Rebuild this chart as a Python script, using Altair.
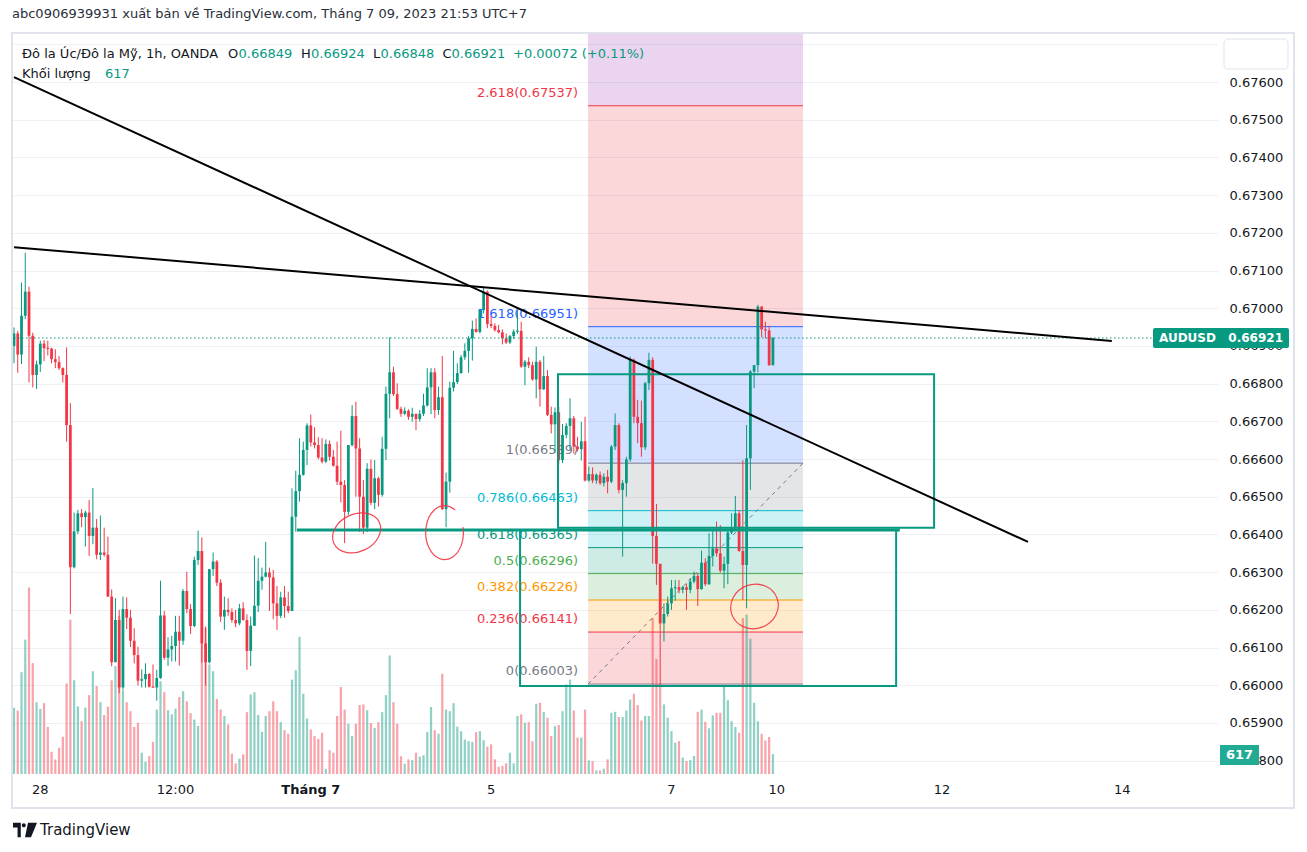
import altair as alt
import pandas as pd

# ---------------- data (AUDUSD 1h) ----------------
opens = [0.66900, 0.66933, 0.66877, 0.66980, 0.67044, 0.66927, 0.66823, 0.66851, 0.66906, 0.66894,
0.66893, 0.66865, 0.66857, 0.66841, 0.66823, 0.66690, 0.66313, 0.66408, 0.66456, 0.66446,
0.66458, 0.66396, 0.66418, 0.66346, 0.66352, 0.66346, 0.66235, 0.66061, 0.66173, 0.65994,
0.66202, 0.66179, 0.66118, 0.66080, 0.66012, 0.66016, 0.66030, 0.65996, 0.65994, 0.66019,
0.66185, 0.66073, 0.66095, 0.66104, 0.66142, 0.66118, 0.66250, 0.66202, 0.66157, 0.66332,
0.66356, 0.66111, 0.66061, 0.66308, 0.66328, 0.66272, 0.66182, 0.66200, 0.66194, 0.66173,
0.66164, 0.66204, 0.66173, 0.66091, 0.66158, 0.66211, 0.66277, 0.66288, 0.66299, 0.66286,
0.66217, 0.66184, 0.66233, 0.66210, 0.66197, 0.66447, 0.66515, 0.66558, 0.66624, 0.66689,
0.66644, 0.66637, 0.66604, 0.66593, 0.66640, 0.66606, 0.66582, 0.66540, 0.66531, 0.66460,
0.66637, 0.66714, 0.66628, 0.66500, 0.66418, 0.66574, 0.66484, 0.66549, 0.66505, 0.66627,
0.66773, 0.66830, 0.66772, 0.66733, 0.66720, 0.66728, 0.66712, 0.66720, 0.66706, 0.66720,
0.66742, 0.66790, 0.66830, 0.66730, 0.66764, 0.66467, 0.66540, 0.66789, 0.66804, 0.66828,
0.66870, 0.66887, 0.66920, 0.66945, 0.66937, 0.66995, 0.67044, 0.66958, 0.66953, 0.66942,
0.66936, 0.66920, 0.66909, 0.66926, 0.66938, 0.66940, 0.66845, 0.66858, 0.66849, 0.66811,
0.66858, 0.66785, 0.66820, 0.66717, 0.66692, 0.66724, 0.66597, 0.66664, 0.66688, 0.66708,
0.66633, 0.66626, 0.66647, 0.66543, 0.66560, 0.66543, 0.66558, 0.66536, 0.66553, 0.66540,
0.66633, 0.66690, 0.66518, 0.66536, 0.66599, 0.66863, 0.66712, 0.66695, 0.66631, 0.66801,
0.66863, 0.66396, 0.66322, 0.66164, 0.66189, 0.66217, 0.66257, 0.66260, 0.66253, 0.66260,
0.66253, 0.66275, 0.66290, 0.66255, 0.66325, 0.66268, 0.66343, 0.66363, 0.66350, 0.66304,
0.66322, 0.66405, 0.66416, 0.66456, 0.66356, 0.66319, 0.66602, 0.66832, 0.66849, 0.67004,
0.66944, 0.66941, 0.66849]

highs = [0.66949, 0.66940, 0.67068, 0.67147, 0.67057, 0.66935, 0.66861, 0.66914, 0.66916, 0.66914,
0.66895, 0.66891, 0.66873, 0.66843, 0.66896, 0.66748, 0.66458, 0.66465, 0.66467, 0.66463,
0.66491, 0.66523, 0.66441, 0.66450, 0.66418, 0.66394, 0.66254, 0.66231, 0.66200, 0.66235,
0.66233, 0.66200, 0.66151, 0.66102, 0.66042, 0.66058, 0.66032, 0.66055, 0.66041, 0.66277,
0.66197, 0.66127, 0.66131, 0.66184, 0.66184, 0.66255, 0.66301, 0.66215, 0.66341, 0.66410,
0.66392, 0.66156, 0.66308, 0.66352, 0.66332, 0.66281, 0.66235, 0.66231, 0.66204, 0.66200,
0.66216, 0.66220, 0.66188, 0.66182, 0.66344, 0.66337, 0.66312, 0.66380, 0.66312, 0.66306,
0.66263, 0.66248, 0.66263, 0.66248, 0.66522, 0.66569, 0.66655, 0.66646, 0.66695, 0.66718,
0.66684, 0.66658, 0.66655, 0.66652, 0.66649, 0.66624, 0.66646, 0.66675, 0.66544, 0.66637,
0.66743, 0.66752, 0.66655, 0.66544, 0.66589, 0.66599, 0.66597, 0.66553, 0.66659, 0.66792,
0.66923, 0.66845, 0.66801, 0.66739, 0.66737, 0.66732, 0.66736, 0.66720, 0.66730, 0.66773,
0.66841, 0.66841, 0.66841, 0.66792, 0.66873, 0.66564, 0.66805, 0.66887, 0.66854, 0.66876,
0.66907, 0.66926, 0.66967, 0.66973, 0.66997, 0.67055, 0.67047, 0.66978, 0.66960, 0.66956,
0.66944, 0.66933, 0.66929, 0.66944, 0.66995, 0.66964, 0.66863, 0.66870, 0.66858, 0.66898,
0.66863, 0.66873, 0.66836, 0.66739, 0.66737, 0.66739, 0.66693, 0.66695, 0.66761, 0.66714,
0.66659, 0.66699, 0.66712, 0.66580, 0.66578, 0.66562, 0.66567, 0.66562, 0.66571, 0.66637,
0.66721, 0.66695, 0.66544, 0.66606, 0.66872, 0.66867, 0.66757, 0.66755, 0.66805, 0.66882,
0.66870, 0.66481, 0.66322, 0.66217, 0.66235, 0.66279, 0.66279, 0.66279, 0.66263, 0.66270,
0.66284, 0.66301, 0.66297, 0.66357, 0.66337, 0.66403, 0.66412, 0.66434, 0.66425, 0.66341,
0.66412, 0.66456, 0.66502, 0.66465, 0.66597, 0.66690, 0.66836, 0.66849, 0.67009, 0.67006,
0.66964, 0.66953, 0.66924]

lows = [0.66854, 0.66829, 0.66852, 0.66971, 0.66803, 0.66790, 0.66786, 0.66831, 0.66860, 0.66875,
0.66854, 0.66841, 0.66836, 0.66803, 0.66646, 0.66189, 0.66310, 0.66401, 0.66419, 0.66368,
0.66343, 0.66374, 0.66334, 0.66332, 0.66341, 0.66235, 0.66050, 0.66061, 0.65979, 0.65988,
0.66149, 0.66101, 0.66058, 0.65999, 0.65994, 0.65994, 0.65994, 0.65994, 0.65959, 0.66017,
0.66067, 0.66051, 0.66063, 0.66063, 0.66052, 0.66107, 0.66191, 0.66136, 0.66154, 0.66319,
0.66060, 0.65999, 0.66058, 0.66290, 0.66263, 0.66168, 0.66147, 0.66184, 0.66166, 0.66154,
0.66159, 0.66171, 0.66041, 0.66051, 0.66157, 0.66194, 0.66253, 0.66286, 0.66197, 0.66175,
0.66147, 0.66178, 0.66179, 0.66191, 0.66197, 0.66407, 0.66487, 0.66556, 0.66584, 0.66633,
0.66628, 0.66599, 0.66588, 0.66589, 0.66596, 0.66580, 0.66531, 0.66485, 0.66377, 0.66452,
0.66633, 0.66500, 0.66407, 0.66401, 0.66406, 0.66478, 0.66467, 0.66474, 0.66500, 0.66597,
0.66708, 0.66767, 0.66730, 0.66712, 0.66716, 0.66704, 0.66699, 0.66677, 0.66699, 0.66714,
0.66739, 0.66719, 0.66708, 0.66717, 0.66465, 0.66419, 0.66511, 0.66779, 0.66799, 0.66826,
0.66863, 0.66829, 0.66861, 0.66935, 0.66933, 0.66986, 0.66947, 0.66947, 0.66938, 0.66933,
0.66904, 0.66905, 0.66905, 0.66918, 0.66932, 0.66842, 0.66796, 0.66841, 0.66808, 0.66761,
0.66739, 0.66783, 0.66714, 0.66668, 0.66617, 0.66587, 0.66589, 0.66655, 0.66624, 0.66615,
0.66620, 0.66596, 0.66540, 0.66540, 0.66536, 0.66534, 0.66531, 0.66527, 0.66509, 0.66536,
0.66624, 0.66509, 0.66341, 0.66500, 0.66593, 0.66695, 0.66642, 0.66606, 0.66624, 0.66783,
0.66323, 0.66266, 0.66001, 0.66116, 0.66182, 0.66200, 0.66224, 0.66244, 0.66244, 0.66200,
0.66244, 0.66270, 0.66210, 0.66253, 0.66263, 0.66266, 0.66315, 0.66341, 0.66299, 0.66257,
0.66268, 0.66401, 0.66414, 0.66354, 0.66226, 0.66204, 0.66518, 0.66788, 0.66830, 0.66923,
0.66920, 0.66847, 0.66848]

closes = [0.66933, 0.66877, 0.66980, 0.67044, 0.66927, 0.66823, 0.66851, 0.66906, 0.66894, 0.66893,
0.66865, 0.66857, 0.66841, 0.66823, 0.66690, 0.66313, 0.66408, 0.66456, 0.66446, 0.66458,
0.66396, 0.66418, 0.66346, 0.66352, 0.66346, 0.66235, 0.66061, 0.66173, 0.65994, 0.66202,
0.66179, 0.66118, 0.66080, 0.66012, 0.66016, 0.66030, 0.65996, 0.65994, 0.66019, 0.66185,
0.66073, 0.66095, 0.66104, 0.66142, 0.66118, 0.66250, 0.66202, 0.66157, 0.66332, 0.66356,
0.66111, 0.66061, 0.66308, 0.66328, 0.66272, 0.66182, 0.66200, 0.66194, 0.66173, 0.66164,
0.66204, 0.66173, 0.66091, 0.66158, 0.66211, 0.66277, 0.66288, 0.66299, 0.66286, 0.66217,
0.66184, 0.66233, 0.66210, 0.66197, 0.66447, 0.66515, 0.66558, 0.66624, 0.66689, 0.66644,
0.66637, 0.66604, 0.66593, 0.66640, 0.66606, 0.66582, 0.66540, 0.66531, 0.66460, 0.66637,
0.66714, 0.66628, 0.66500, 0.66418, 0.66574, 0.66484, 0.66549, 0.66505, 0.66627, 0.66773,
0.66830, 0.66772, 0.66733, 0.66720, 0.66728, 0.66712, 0.66720, 0.66706, 0.66720, 0.66742,
0.66790, 0.66830, 0.66730, 0.66764, 0.66467, 0.66540, 0.66789, 0.66804, 0.66828, 0.66870,
0.66887, 0.66920, 0.66945, 0.66937, 0.66995, 0.67044, 0.66958, 0.66953, 0.66942, 0.66936,
0.66920, 0.66909, 0.66926, 0.66938, 0.66940, 0.66845, 0.66858, 0.66849, 0.66811, 0.66858,
0.66785, 0.66820, 0.66717, 0.66692, 0.66724, 0.66597, 0.66664, 0.66688, 0.66708, 0.66633,
0.66626, 0.66647, 0.66543, 0.66560, 0.66543, 0.66558, 0.66536, 0.66553, 0.66540, 0.66633,
0.66690, 0.66518, 0.66536, 0.66599, 0.66863, 0.66712, 0.66695, 0.66631, 0.66801, 0.66863,
0.66396, 0.66322, 0.66164, 0.66189, 0.66217, 0.66257, 0.66260, 0.66253, 0.66260, 0.66253,
0.66275, 0.66290, 0.66255, 0.66325, 0.66268, 0.66343, 0.66363, 0.66350, 0.66304, 0.66322,
0.66405, 0.66416, 0.66456, 0.66356, 0.66319, 0.66602, 0.66832, 0.66849, 0.67004, 0.66944,
0.66941, 0.66849, 0.66921]

volumes = [2060, 1970, 3160, 4170, 5790, 3440, 2230, 2020, 2200, 1460,
690, 450, 815, 1160, 2810, 4790, 2910, 2100, 1640, 2060,
2450, 3190, 2730, 2230, 1830, 2090, 2910, 3350, 4900, 2600,
2230, 1950, 1460, 1590, 660, 380, 560, 1000, 2000, 2880,
2540, 1980, 1850, 2030, 2390, 2570, 2260, 1890, 1690, 1490,
4980, 4530, 3400, 3190, 2330, 2000, 1800, 1540, 630, 330,
475, 610, 1920, 2470, 2540, 1830, 1310, 1800, 1950, 2260,
1950, 1610, 1360, 1250, 2930, 3220, 4260, 2490, 1720, 1380,
1180, 1090, 1280, 160, 740, 660, 1800, 2700, 2000, 1560,
1180, 1560, 2140, 2160, 1980, 1580, 1430, 1610, 1920, 2450,
3680, 2230, 1560, 550, 320, 455, 430, 660, 540, 580,
1300, 2080, 1360, 1250, 3110, 2000, 1950, 2200, 1470, 1330,
1070, 1020, 1000, 1300, 1330, 1050, 850, 920, 455, 220,
250, 330, 660, 330, 1800, 1850, 1590, 1610, 1020, 2180,
2210, 1930, 1750, 1180, 1490, 1520, 1950, 2780, 2930, 1970,
1130, 1130, 2000, 420, 400, 110, 110, 165, 455, 1900,
1930, 1770, 1770, 1970, 2310, 2490, 2140, 1660, 1800, 1800,
4840, 3570, 2800, 2160, 1750, 1330, 970, 1020, 510, 400,
430, 560, 1930, 2000, 1620, 1420, 1820, 1900, 1900, 2700,
2290, 1640, 1460, 1280, 4840, 4950, 4200, 2210, 1640, 1250,
1040, 1150, 617]

# time-axis labels (bar index -> label)
tick_idx = [7, 43, 79, 127, 175, 203, 247, 295]
tick_labels = ["28", "12:00", "Tháng 7", "5", "7", "10", "12", "14"]
price_ticks = [0.658, 0.659, 0.660, 0.661, 0.662, 0.663, 0.664, 0.665, 0.666, 0.667,
               0.668, 0.669, 0.670, 0.671, 0.672, 0.673, 0.674, 0.675, 0.676, 0.677]

# Fibonacci retracement
fib_levels = ["0", "0.236", "0.382", "0.5", "0.618", "0.786", "1", "1.618", "2.618", "3.618"]
fib_prices = [0.66003, 0.66141, 0.66226, 0.66296, 0.66365, 0.66463, 0.66589, 0.66951, 0.67537, 0.68122]
fib_colors = ["#787b86", "#f23645", "#ff9800", "#4caf50", "#089981", "#00bcd4", "#787b86", "#2962ff", "#f23645", "#9c27b0"]
fib_start, fib_end = 152.8, 210.0

# drawings (bar index, price)
trend_x1 = [0.0, 0.0]
trend_p1 = [0.67162, 0.67613]
trend_x2 = [292.2, 269.9]
trend_p2 = [0.66913, 0.66380]

box_x1 = [144.8, 134.7]
box_x2 = [244.9, 234.8]
box_top = [0.66825, 0.66412]
box_bot = [0.66418, 0.65998]
support_x = [75.3, 235.8]
support_p = 0.66412

circle_x = [91.2, 115.0, 197.1]
circle_p = [0.66404, 0.66393, 0.66209]

# ---------------- layout ----------------
W, H = 1206, 741
X_DOMAIN = [-0.53, 320.47]
Y_DOMAIN = [0.657645, 0.677300]
V_DOMAIN = [0, 23000]
GRID = "#eef0f4"
FONT = "DejaVu Sans"
UP, DOWN = "#089981", "#f23645"
TXT = "#131722"

xs = alt.Scale(domain=X_DOMAIN, nice=False, zero=False)
ys = alt.Scale(domain=Y_DOMAIN, nice=False, zero=False)


def py(p):
    return (Y_DOMAIN[1] - p) / (Y_DOMAIN[1] - Y_DOMAIN[0]) * H


n = min(len(opens), len(highs), len(lows), len(closes), len(volumes))
df = pd.DataFrame({"i": list(range(n)), "o": opens[:n], "h": highs[:n], "l": lows[:n],
                   "c": closes[:n], "v": volumes[:n]})
df["h"] = df[["h", "o", "c"]].max(axis=1)
df["l"] = df[["l", "o", "c"]].min(axis=1)
df["dir"] = ["up" if c >= o else "down" for o, c in zip(df["o"], df["c"])]
df["bt"] = df[["o", "c"]].max(axis=1)
df["bb"] = df[["o", "c"]].min(axis=1)
mid = (df["o"] + df["c"]) / 2
small = (df["bt"] - df["bb"]) < 0.00003
df.loc[small, "bt"] = mid[small] + 0.000015
df.loc[small, "bb"] = mid[small] - 0.000015
df["x1"] = df["i"] - 0.37
df["x2"] = df["i"] + 0.37
df["vx1"] = df["i"] - 0.3
df["vx2"] = df["i"] + 0.3
df["v0"] = 0

color_dir = alt.Color("dir:N", scale=alt.Scale(domain=["up", "down"], range=[UP, DOWN]), legend=None)
dummy = pd.DataFrame({"a": [0]})

layers = []

# Fibonacci bands (carry the axes / grid)
bands = pd.DataFrame({
    "x1": [fib_start] * 9, "x2": [fib_end] * 9,
    "lo": fib_prices[:-1], "hi": fib_prices[1:], "col": fib_colors[1:]})
layers.append(alt.Chart(bands).mark_rect(opacity=0.2, clip=True).encode(
    x=alt.X("x1:Q", scale=xs, axis=alt.Axis(values=tick_idx, grid=True, gridColor=GRID, labels=False,
                                             ticks=False, domain=False, title=None)),
    x2="x2:Q",
    y=alt.Y("lo:Q", scale=ys, axis=alt.Axis(orient="right", values=price_ticks, format=".5f", grid=True,
                                             gridColor=GRID, ticks=False, domain=False, labelPadding=11,
                                             labelFontSize=13, labelColor=TXT, labelFont=FONT, title=None,
                                             labelOverlap=False)),
    y2="hi:Q",
    color=alt.Color("col:N", scale=None)))

fib = pd.DataFrame({"x1": [fib_start] * 9, "x2": [fib_end] * 9, "p": fib_prices[:-1],
                    "col": fib_colors[:-1],
                    "lab": [f"{lv}({p:.5f})" for lv, p in zip(fib_levels[:-1], fib_prices[:-1])]})
layers.append(alt.Chart(fib).mark_rule(strokeWidth=1).encode(
    x=alt.X("x1:Q", scale=xs, axis=None), x2="x2:Q",
    y=alt.Y("p:Q", scale=ys, axis=None), color=alt.Color("col:N", scale=None)))
layers.append(alt.Chart(fib).mark_text(align="right", baseline="middle", dx=-10, dy=-13,
                                       fontSize=13, font=FONT).encode(
    x=alt.X("x1:Q", scale=xs, axis=None), y=alt.Y("p:Q", scale=ys, axis=None),
    text="lab:N", color=alt.Color("col:N", scale=None)))

diag = pd.DataFrame({"x1": [fib_start], "x2": [fib_end], "p1": [fib_prices[0]], "p2": [fib_prices[6]]})
layers.append(alt.Chart(diag).mark_rule(strokeDash=[4, 4], color="#787b86", strokeWidth=1).encode(
    x=alt.X("x1:Q", scale=xs, axis=None), x2="x2:Q",
    y=alt.Y("p1:Q", scale=ys, axis=None), y2="p2:Q"))

# volume
layers.append(alt.Chart(df).mark_rect(opacity=0.45).encode(
    x=alt.X("vx1:Q", scale=xs, axis=None), x2="vx2:Q",
    y=alt.Y("v:Q", scale=alt.Scale(domain=V_DOMAIN, nice=False, zero=True), axis=None), y2="v0:Q",
    color=color_dir))

# candles
layers.append(alt.Chart(df).mark_rule(strokeWidth=1).encode(
    x=alt.X("i:Q", scale=xs, axis=None),
    y=alt.Y("l:Q", scale=ys, axis=None), y2="h:Q", color=color_dir))
layers.append(alt.Chart(df).mark_rect().encode(
    x=alt.X("x1:Q", scale=xs, axis=None), x2="x2:Q",
    y=alt.Y("bb:Q", scale=ys, axis=None), y2="bt:Q", color=color_dir))

# last price dotted line
last = pd.DataFrame({"p": [closes[n - 1]]})
layers.append(alt.Chart(last).mark_rule(strokeDash=[1.5, 2.5], color=UP, strokeWidth=1).encode(
    x=alt.value(2), x2=alt.value(1141), y=alt.Y("p:Q", scale=ys, axis=None)))

# green boxes and support line
boxes = pd.DataFrame({"x1": box_x1, "x2": box_x2, "t": box_top, "b": box_bot})
layers.append(alt.Chart(boxes).mark_rect(fillOpacity=0, stroke=UP, strokeWidth=2).encode(
    x=alt.X("x1:Q", scale=xs, axis=None), x2="x2:Q",
    y=alt.Y("b:Q", scale=ys, axis=None), y2="t:Q"))
sup = pd.DataFrame({"x1": [support_x[0]], "x2": [support_x[1]], "p": [support_p]})
layers.append(alt.Chart(sup).mark_rule(color=UP, strokeWidth=3).encode(
    x=alt.X("x1:Q", scale=xs, axis=None), x2="x2:Q", y=alt.Y("p:Q", scale=ys, axis=None)))

# black trend lines
tl = pd.DataFrame({"x1": trend_x1, "x2": trend_x2, "p1": trend_p1, "p2": trend_p2})
layers.append(alt.Chart(tl).mark_rule(color="#000000", strokeWidth=2).encode(
    x=alt.X("x1:Q", scale=xs, axis=None), x2="x2:Q",
    y=alt.Y("p1:Q", scale=ys, axis=None), y2="p2:Q"))

# hand-drawn red circles
circ = pd.DataFrame({
    "x": circle_x, "p": circle_p,
    "path": ["M -1 0 A 1 0.75 0 1 0 1 0 A 1 0.75 0 1 0 -1 0 Z",
             "M 0.33 -1 A 0.7 1 0 1 0 0.63 -0.37",
             "M -1 0 A 1 0.92 0 1 0 1 0 A 1 0.92 0 1 0 -1 0 Z"],
    "sz": [2500, 2916, 2304], "ang": [335, 0, 340]})
layers.append(alt.Chart(circ).mark_point(filled=False, color="#f23645", strokeWidth=1.2, opacity=0.9).encode(
    x=alt.X("x:Q", scale=xs, axis=None), y=alt.Y("p:Q", scale=ys, axis=None),
    shape=alt.Shape("path:N", scale=None), size=alt.Size("sz:Q", scale=None),
    angle=alt.Angle("ang:Q", scale=None)))

# ---------------- chrome: badges, texts, frame ----------------
def rect(x1, x2, y1, y2, **kw):
    return alt.Chart(dummy).mark_rect(**kw).encode(
        x=alt.value(x1), x2=alt.value(x2), y=alt.value(y1), y2=alt.value(y2))


def text(s, x, y, **kw):
    props = dict(baseline="middle", font=FONT, fontSize=13, color=TXT, align="left")
    props.update(kw)
    return alt.Chart(dummy).mark_text(**props).encode(x=alt.value(x), y=alt.value(y), text=alt.value(s))


layers.append(rect(1212, 1276, 6, 36, fill="white", stroke="#e0e3eb", strokeWidth=1, cornerRadius=4))

pc = py(closes[n - 1])
layers.append(rect(1141, 1277, pc - 10, pc + 10, fill=UP, cornerRadius=2))
layers.append(text("AUDUSD", 1147, pc, color="white", fontWeight="bold", fontSize=12))
layers.append(text(f"{closes[n - 1]:.5f}", 1271, pc, color="white", fontWeight="bold", fontSize=12, align="right"))

pv = H - volumes[n - 1] / V_DOMAIN[1] * H
layers.append(rect(1208, 1247, pv - 9, pv + 11, fill="#22ab94"))
layers.append(text(str(volumes[n - 1]), 1227.5, pv + 1, color="white", fontWeight="bold", align="center"))

# header
layers.append(text("abc0906939931 xuất bản về TradingView.com, Tháng 7 09, 2023 21:53 UTC+7", 0, -19,
                   color="#2a2e39"))
segs = [("Đô la Úc/Đô la Mỹ, 1h, OANDA", 10, TXT), ("O", 216, TXT), ("0.66849", 226.5, UP),
        ("H", 289, TXT), ("0.66924", 299, UP), ("L", 361, TXT), ("0.66848", 368.5, UP),
        ("C", 430.5, TXT), ("0.66921", 439.5, UP), ("+0.00072 (+0.11%)", 501, UP)]
for s, x, c in segs:
    layers.append(text(s, x, 21, color=c))
layers.append(text("Khối lượng", 10, 41))
layers.append(text("617", 93, 41, color=UP))

# time labels
ticks = pd.DataFrame({"i": tick_idx, "lab": tick_labels,
                      "bold": [lab.startswith("Tháng") for lab in tick_labels]})
layers.append(alt.Chart(ticks).transform_filter("!datum.bold").mark_text(
    baseline="middle", align="center", font=FONT, fontSize=13, color=TXT).encode(
    x=alt.X("i:Q", scale=xs, axis=None), y=alt.value(757), text="lab:N"))
layers.append(alt.Chart(ticks).transform_filter("datum.bold").mark_text(
    baseline="middle", align="center", font=FONT, fontSize=13, color=TXT, fontWeight="bold").encode(
    x=alt.X("i:Q", scale=xs, axis=None), y=alt.value(757), text="lab:N"))

# frame
layers.append(rect(0, 1282, 0, 775, fillOpacity=0, stroke="#e0e3eb", strokeWidth=2))

# TradingView logo + name
logo_path = ("M -1 -0.6 L -0.35 -0.6 L -0.35 0.6 L -0.62 0.6 L -0.62 -0.2 L -1 -0.2 Z "
             "M -0.27 -0.4 A 0.17 0.17 0 1 0 0.07 -0.4 A 0.17 0.17 0 1 0 -0.27 -0.4 Z "
             "M 0.25 -0.6 L 1 -0.6 L 0.5 0.6 L 0.0 0.6 Z")
layers.append(alt.Chart(dummy).mark_point(shape=logo_path, filled=True, color=TXT, opacity=1, size=576).encode(
    x=alt.value(13), y=alt.value(797)))
layers.append(text("TradingView", 28, 797, fontSize=15))

chart = alt.layer(*layers).resolve_scale(y="independent", color="independent").properties(
    width=W, height=H,
    padding={"left": 12, "top": 33, "right": 89, "bottom": 78},
    autosize=alt.AutoSizeParams(type="none"),
    background="white",
).configure_view(stroke=None)

chart.save("out.html", embed_options={"renderer": "svg", "actions": False})
